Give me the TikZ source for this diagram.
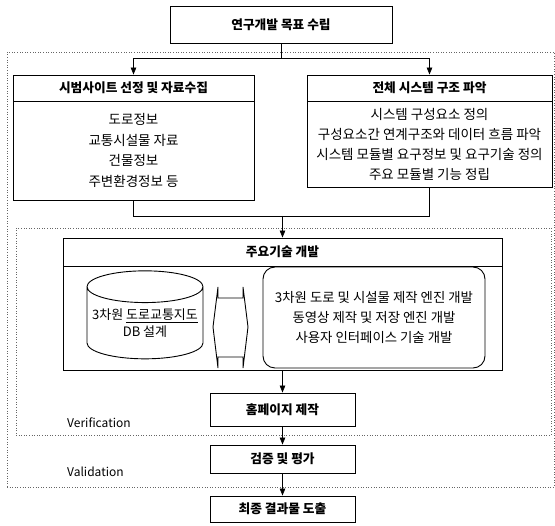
\documentclass[tikz,border=0pt]{standalone}
\usepackage{fontspec}
\setmainfont{Noto Sans CJK KR}
\usetikzlibrary{arrows.meta,shapes.geometric}
\tikzstyle{stepbox}=[draw,line width=0.9pt,inner sep=0pt,font=\fontsize{12.7}{14}\selectfont\bfseries]
\tikzstyle{bodybox}=[draw,line width=0.9pt,inner sep=0pt,align=center,font=\fontsize{13.5}{20.5}\selectfont]
\tikzstyle{dotbox}=[draw=black!60,line width=0.6pt,dotted,inner sep=0pt]
\tikzstyle{edge}=[draw,line width=0.8pt,-{Triangle[length=7pt,width=5.5pt]}]
\tikzstyle{plainedge}=[draw,line width=0.8pt]
\tikzstyle{tag}=[anchor=west,inner sep=0pt,font=\fontsize{12}{14}\selectfont]

\begin{document}
\begin{tikzpicture}[x=1pt,y=-1pt]
\useasboundingbox (0,0) rectangle (555,526);

% frames
\node[dotbox,minimum width=547pt,minimum height=435pt] (valid) at (280.5,269.5) {};
\node[dotbox,minimum width=535pt,minimum height=207pt] (verif) at (283.5,331.5) {};

% goal
\node[stepbox,minimum width=222pt,minimum height=37pt] (goal) at (281,25) {연구개발 목표 수립};

% site selection
\node[stepbox,minimum width=241pt,minimum height=26pt] (sitehead) at (133.5,88) {시범사이트 선정 및 자료수집};
\node[bodybox,minimum width=241pt,minimum height=99pt] (sitebody) at (133.5,150.5) {도로정보\\교통시설물 자료\\건물정보\\주변환경정보 등};

% system structure
\node[stepbox,minimum width=245pt,minimum height=26pt] (structhead) at (429.5,88) {전체 시스템 구조 파악};
\node[bodybox,minimum width=245pt,minimum height=86pt,font=\fontsize{13.5}{20}\selectfont] (structbody) at (429.5,144) {시스템 구성요소 정의\\구성요소간 연계구조와 데이터 흐름 파악\\시스템 모듈별 요구정보 및 요구기술 정의\\주요 모듈별 기능 정립};

% main technology
\node[stepbox,minimum width=439pt,minimum height=28pt] (techhead) at (282.5,252) {주요기술 개발};
\node[draw,line width=0.9pt,minimum width=439pt,minimum height=104pt] (techbody) at (282.5,318) {};
\node[cylinder,shape border rotate=90,draw,line width=0.9pt,minimum width=116pt,minimum height=88pt,aspect=0.3,align=center,inner sep=0pt,font=\fontsize{13}{16.5}\selectfont] (db) at (145,323) {3차원 \underline{도로교통지도}\\DB 설계};
\draw[line width=0.9pt] (213,327) -- (218,287) -- (218,298) -- (243,298) -- (243,287) -- (248,327) -- (243,368) -- (243,357) -- (218,357) -- (218,368) -- cycle;
\node[bodybox,rounded corners=12pt,minimum width=222pt,minimum height=101pt,font=\fontsize{13.4}{20}\selectfont] (engine) at (374,317.5) {3차원 도로 및 시설물 제작 엔진 개발\\동영상 제작 및 저장 엔진 개발\\사용자 인터페이스 기술 개발};

% final steps
\node[stepbox,minimum width=145pt,minimum height=33pt] (home) at (282.5,409.5) {홈페이지 제작};
\node[stepbox,minimum width=145pt,minimum height=28pt] (eval) at (282.5,459) {검증 및 평가};
\node[stepbox,minimum width=145pt,minimum height=26pt] (final) at (282.5,509) {최종 결과물 도출};

\node[tag] (veriflabel) at (67,423) {Verification};
\node[tag] (validlabel) at (67,472) {Validation};

% connectors
\coordinate (split) at (281,58);
\coordinate (merge) at (282.5,216);
\path[plainedge] (goal) -- (split);
\path[edge] (split) -| (sitehead.north);
\path[edge] (split) -| (structhead.north);
\path[plainedge] (sitebody.south) |- (merge);
\path[plainedge] (structbody.south) |- (merge);
\path[edge] (merge) -- (techhead.north);
\path[edge] (techbody.south) -- (home.north);
\path[edge] (home) -- (eval);
\path[edge] (eval) -- (final);

\end{tikzpicture}
\end{document}
